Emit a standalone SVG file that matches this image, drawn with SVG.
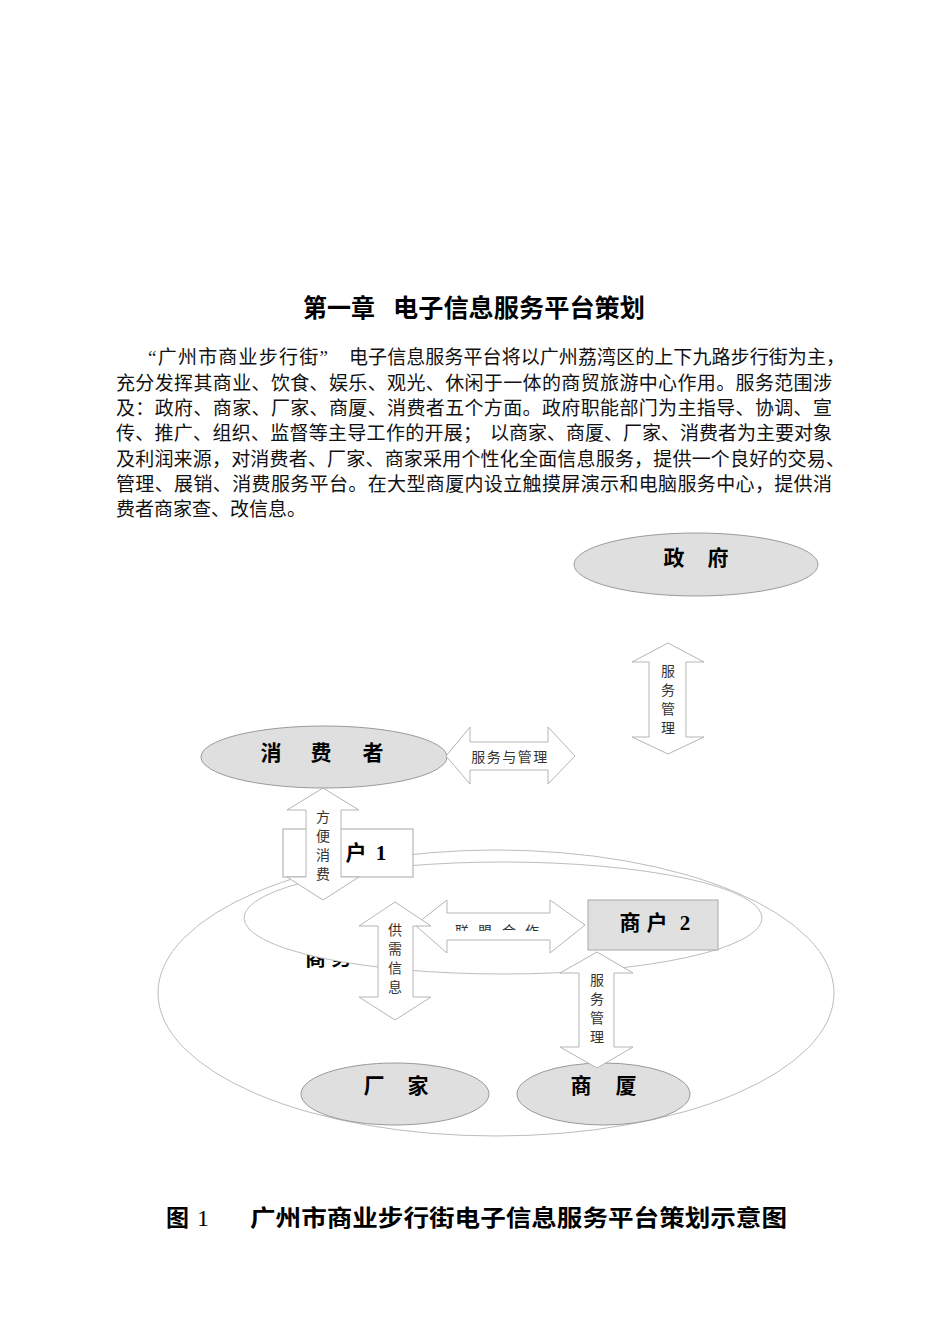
<svg xmlns="http://www.w3.org/2000/svg" width="950" height="1344" viewBox="0 0 950 1344">
<style>
.para{font-family:"Liberation Serif","Noto Sans CJK SC",serif;font-size:19px;fill:#111}
.head{font-family:"Noto Sans CJK SC",sans-serif;font-weight:700;fill:#000}
.lbl{font-family:"Liberation Serif","Noto Sans CJK SC",serif;font-weight:700;fill:#000;font-size:21px}
.al{font-family:"Noto Sans CJK SC",sans-serif;font-size:14px;fill:#333;text-anchor:middle}
.oval{fill:#dfdfdf;stroke:#9a9a9a;stroke-width:1}
.ring{fill:#fff;stroke:#bdbdbd;stroke-width:1}
.box{stroke:#a8a8a8;stroke-width:1}
.arr{fill:#fff;stroke:#b5b5b5;stroke-width:1}
</style>
<defs>
<clipPath id="outsideInner"><path clip-rule="evenodd" d="M0 0H950V1344H0Z M244 918a259 56 0 1 0 518 0a259 56 0 1 0 -518 0Z"/></clipPath>
<clipPath id="ribbonClip"><rect x="440" y="900" width="120" height="31"/></clipPath>
</defs>
<rect width="950" height="1344" fill="#fff"/>

<g id="title">
<text class="head" x="303" y="317" font-size="25" textLength="72" lengthAdjust="spacingAndGlyphs">第一章</text>
<text class="head" x="393" y="317" font-size="25" textLength="252" lengthAdjust="spacingAndGlyphs">电子信息服务平台策划</text>
</g>

<g id="paragraph">
<text class="para" x="148" y="364" textLength="180">“广州市商业步行街”</text>
<text class="para" x="349" y="364" textLength="496">电子信息服务平台将以广州荔湾区的上下九路步行街为主，</text>
<text class="para" x="116" y="389.5" textLength="716">充分发挥其商业、饮食、娱乐、观光、休闲于一体的商贸旅游中心作用。服务范围涉</text>
<text class="para" x="116" y="415" textLength="716">及：政府、商家、厂家、商厦、消费者五个方面。政府职能部门为主指导、协调、宣</text>
<text class="para" x="116" y="440" textLength="366">传、推广、组织、监督等主导工作的开展；</text>
<text class="para" x="490" y="440" textLength="342">以商家、商厦、厂家、消费者为主要对象</text>
<text class="para" x="116" y="465.5" textLength="729">及利润来源，对消费者、厂家、商家采用个性化全面信息服务，提供一个良好的交易、</text>
<text class="para" x="116" y="491" textLength="716">管理、展销、消费服务平台。在大型商厦内设立触摸屏演示和电脑服务中心，提供消</text>
<text class="para" x="116" y="516">费者商家查、改信息。</text>
</g>

<g id="region">
<ellipse class="ring" cx="496" cy="993" rx="338" ry="143"/>
<text class="lbl" font-size="18" x="305 331" y="965" clip-path="url(#outsideInner)">商务</text>
<ellipse class="ring" cx="503" cy="918" rx="259" ry="56"/>
</g>

<g id="gov">
<ellipse class="oval" cx="696" cy="564.5" rx="122" ry="31.5"/>
<text class="lbl" x="674 718" y="565" text-anchor="middle">政府</text>
</g>

<g id="consumer">
<ellipse class="oval" cx="324" cy="757" rx="123" ry="31"/>
<text class="lbl" font-size="22" x="271 321 373" y="760" text-anchor="middle">消费者</text>
</g>

<g id="merchant1">
<rect class="box" x="283" y="829" width="130" height="48" fill="#fff"/>
<text class="lbl" font-size="22" x="356 381" y="860" text-anchor="middle">户1</text>
</g>

<g id="merchant2">
<rect class="box" x="588" y="900" width="130" height="50" fill="#e0e0e0"/>
<text class="lbl" font-size="21" x="630 657 685" y="930" text-anchor="middle">商户2</text>
</g>

<g id="factory">
<ellipse class="oval" cx="395" cy="1094" rx="94" ry="31"/>
<text class="lbl" x="374 418" y="1093" text-anchor="middle">厂家</text>
</g>

<g id="mall">
<ellipse class="oval" cx="603.5" cy="1094" rx="86.5" ry="31"/>
<text class="lbl" x="581 626" y="1093" text-anchor="middle">商厦</text>
</g>

<g id="connectors">
<g id="arrow-gov">
<polygon class="arr" points="668,643 704,662 686,662 686,737 704,737 668,754 632,737 649,737 649,662 632,662"/>
<text class="al" x="668" y="676">服</text>
<text class="al" x="668" y="695">务</text>
<text class="al" x="668" y="714">管</text>
<text class="al" x="668" y="733">理</text>
</g>
<g id="arrow-consumer-service">
<polygon class="arr" points="446,756 470,727 470,742 548,742 548,727 575,756 548,784 548,770 470,770 470,784"/>
<text class="al" x="510" y="762" letter-spacing="1.5">服务与管理</text>
</g>
<g id="arrow-convenience">
<polygon class="arr" points="323,788 359,810 341,810 341,877 359,877 323,900 287,877 306,877 306,810 287,810"/>
<text class="al" x="323" y="822">方</text>
<text class="al" x="323" y="841">便</text>
<text class="al" x="323" y="860">消</text>
<text class="al" x="323" y="879">费</text>
</g>
<g id="arrow-alliance">
<polygon class="arr" points="415,925 447,900 447,913 550,913 550,900 585,925 550,953 550,940 447,940 447,953"/>
<text class="al" font-size="14" x="462 485 509 532" y="936" clip-path="url(#ribbonClip)">联盟合作</text>
</g>
<g id="arrow-supply">
<polygon class="arr" points="395,902 431,926 413,926 413,997 431,997 395,1020 359,997 378,997 378,926 359,926"/>
<text class="al" x="395" y="935">供</text>
<text class="al" x="395" y="954">需</text>
<text class="al" x="395" y="973">信</text>
<text class="al" x="395" y="992">息</text>
</g>
<g id="arrow-mall">
<polygon class="arr" points="597,952 633,973 614,973 614,1047 633,1047 597,1068 560,1047 579,1047 579,973 560,973"/>
<text class="al" x="597" y="985">服</text>
<text class="al" x="597" y="1004">务</text>
<text class="al" x="597" y="1023">管</text>
<text class="al" x="597" y="1042">理</text>
</g>
</g>

<g id="caption">
<text class="head" font-size="23" x="166" y="1226">图</text>
<text font-family="Liberation Serif,serif" font-size="24" x="197" y="1226" fill="#000">1</text>
<text class="head" font-size="23" x="250" y="1226" textLength="537" lengthAdjust="spacingAndGlyphs">广州市商业步行街电子信息服务平台策划示意图</text>
</g>
</svg>
